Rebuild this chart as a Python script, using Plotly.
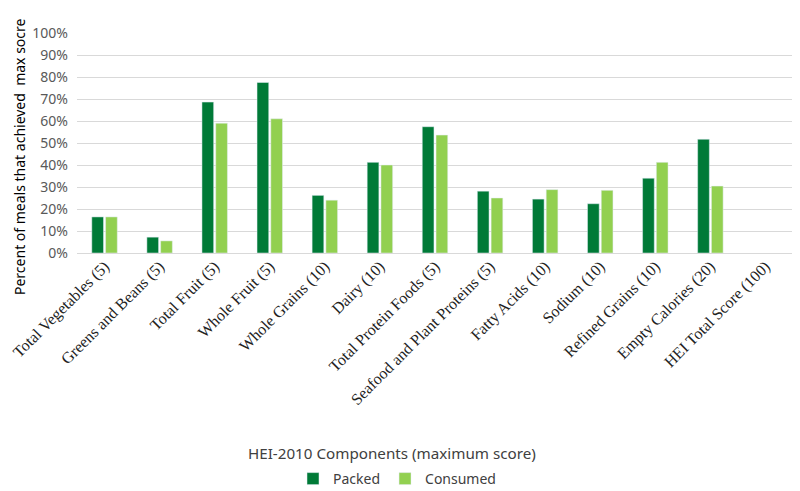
import plotly.graph_objects as go

# HEI-2010 components with max score
components = [
    'Total Vegetables (5)', 'Greens and Beans (5)', 'Total Fruit (5)',
    'Whole Fruit (5)', 'Whole Grains (10)', 'Dairy (10)',
    'Total Protein Foods (5)', 'Seafood and Plant Proteins (5)',
    'Fatty Acids (10)', 'Sodium (10)', 'Refined Grains (10)',
    'Empty Calories (20)', 'HEI Total Score (100)',
]
packed = [0.164, 0.072, 0.686, 0.775, 0.262, 0.412, 0.574, 0.281,
          0.245, 0.224, 0.340, 0.517, None]
consumed = [0.164, 0.055, 0.590, 0.610, 0.240, 0.400, 0.536, 0.250,
            0.288, 0.285, 0.412, 0.304, None]

PACKED_COLOR = '#007A37'
CONSUMED_COLOR = '#92D050'

# page body has an 8px margin, so the figure is drawn 8px smaller
# and all pixel positions below are given in page coordinates
OFF = 8
W, H = 800 - OFF, 491 - OFF
# plot area in page pixels: x 77..793, y 33..253
L, R, T, B = 77, 793, 33, 253


def px_x(x):
    return (x - L) / (R - L)


def px_y(y):
    return (B - y) / (B - T)


fig = go.Figure()
fig.add_trace(go.Bar(x=components, y=packed, name='Packed',
                     marker=dict(color=PACKED_COLOR)))
fig.add_trace(go.Bar(x=components, y=consumed, name='Consumed',
                     marker=dict(color=CONSUMED_COLOR)))

fig.update_layout(
    width=W,
    height=H,
    margin=dict(l=L - OFF, r=800 - R, t=T - OFF, b=491 - B, autoexpand=False),
    paper_bgcolor='white',
    plot_bgcolor='white',
    barmode='group',
    bargap=0.5,
    bargroupgap=0.15,
    font=dict(family='Noto Sans', color='#404040'),
    xaxis=dict(
        range=[-0.5, 12.5],
        tickangle=-45,
        tickfont=dict(family='Liberation Serif', size=16, color='#222222'),
        showgrid=False,
        showline=False,
        ticks='',
        automargin=False,
    ),
    yaxis=dict(
        range=[0, 1.0],
        dtick=0.1,
        tickformat='.0%',
        tickfont=dict(family='Noto Sans', size=14, color='#595959'),
        ticklabelstandoff=8,
        gridcolor='#D9D9D9',
        gridwidth=1,
        zeroline=True,
        zerolinecolor='#D9D9D9',
        zerolinewidth=1,
        showline=False,
        ticks='',
        automargin=False,
    ),
    legend=dict(
        orientation='h',
        x=px_x(397), xanchor='center',
        y=px_y(479), yanchor='middle',
        font=dict(family='Noto Sans', size=14, color='#404040'),
        itemwidth=30,
    ),
    showlegend=True,
)

# y-axis title
fig.add_annotation(
    text='Percent of meals that achieved  max socre',
    textangle=-90,
    xref='paper', yref='paper',
    x=px_x(19), y=px_y(157),
    xanchor='center', yanchor='middle',
    showarrow=False,
    font=dict(family='Noto Sans', size=14, color='#000000'),
)

# x-axis title
fig.add_annotation(
    text='HEI-2010 Components (maximum score)',
    xref='paper', yref='paper',
    x=px_x(392), y=px_y(453),
    xanchor='center', yanchor='middle',
    showarrow=False,
    font=dict(family='Noto Sans', size=15.2, color='#404040'),
)

fig.write_html('out.html')
